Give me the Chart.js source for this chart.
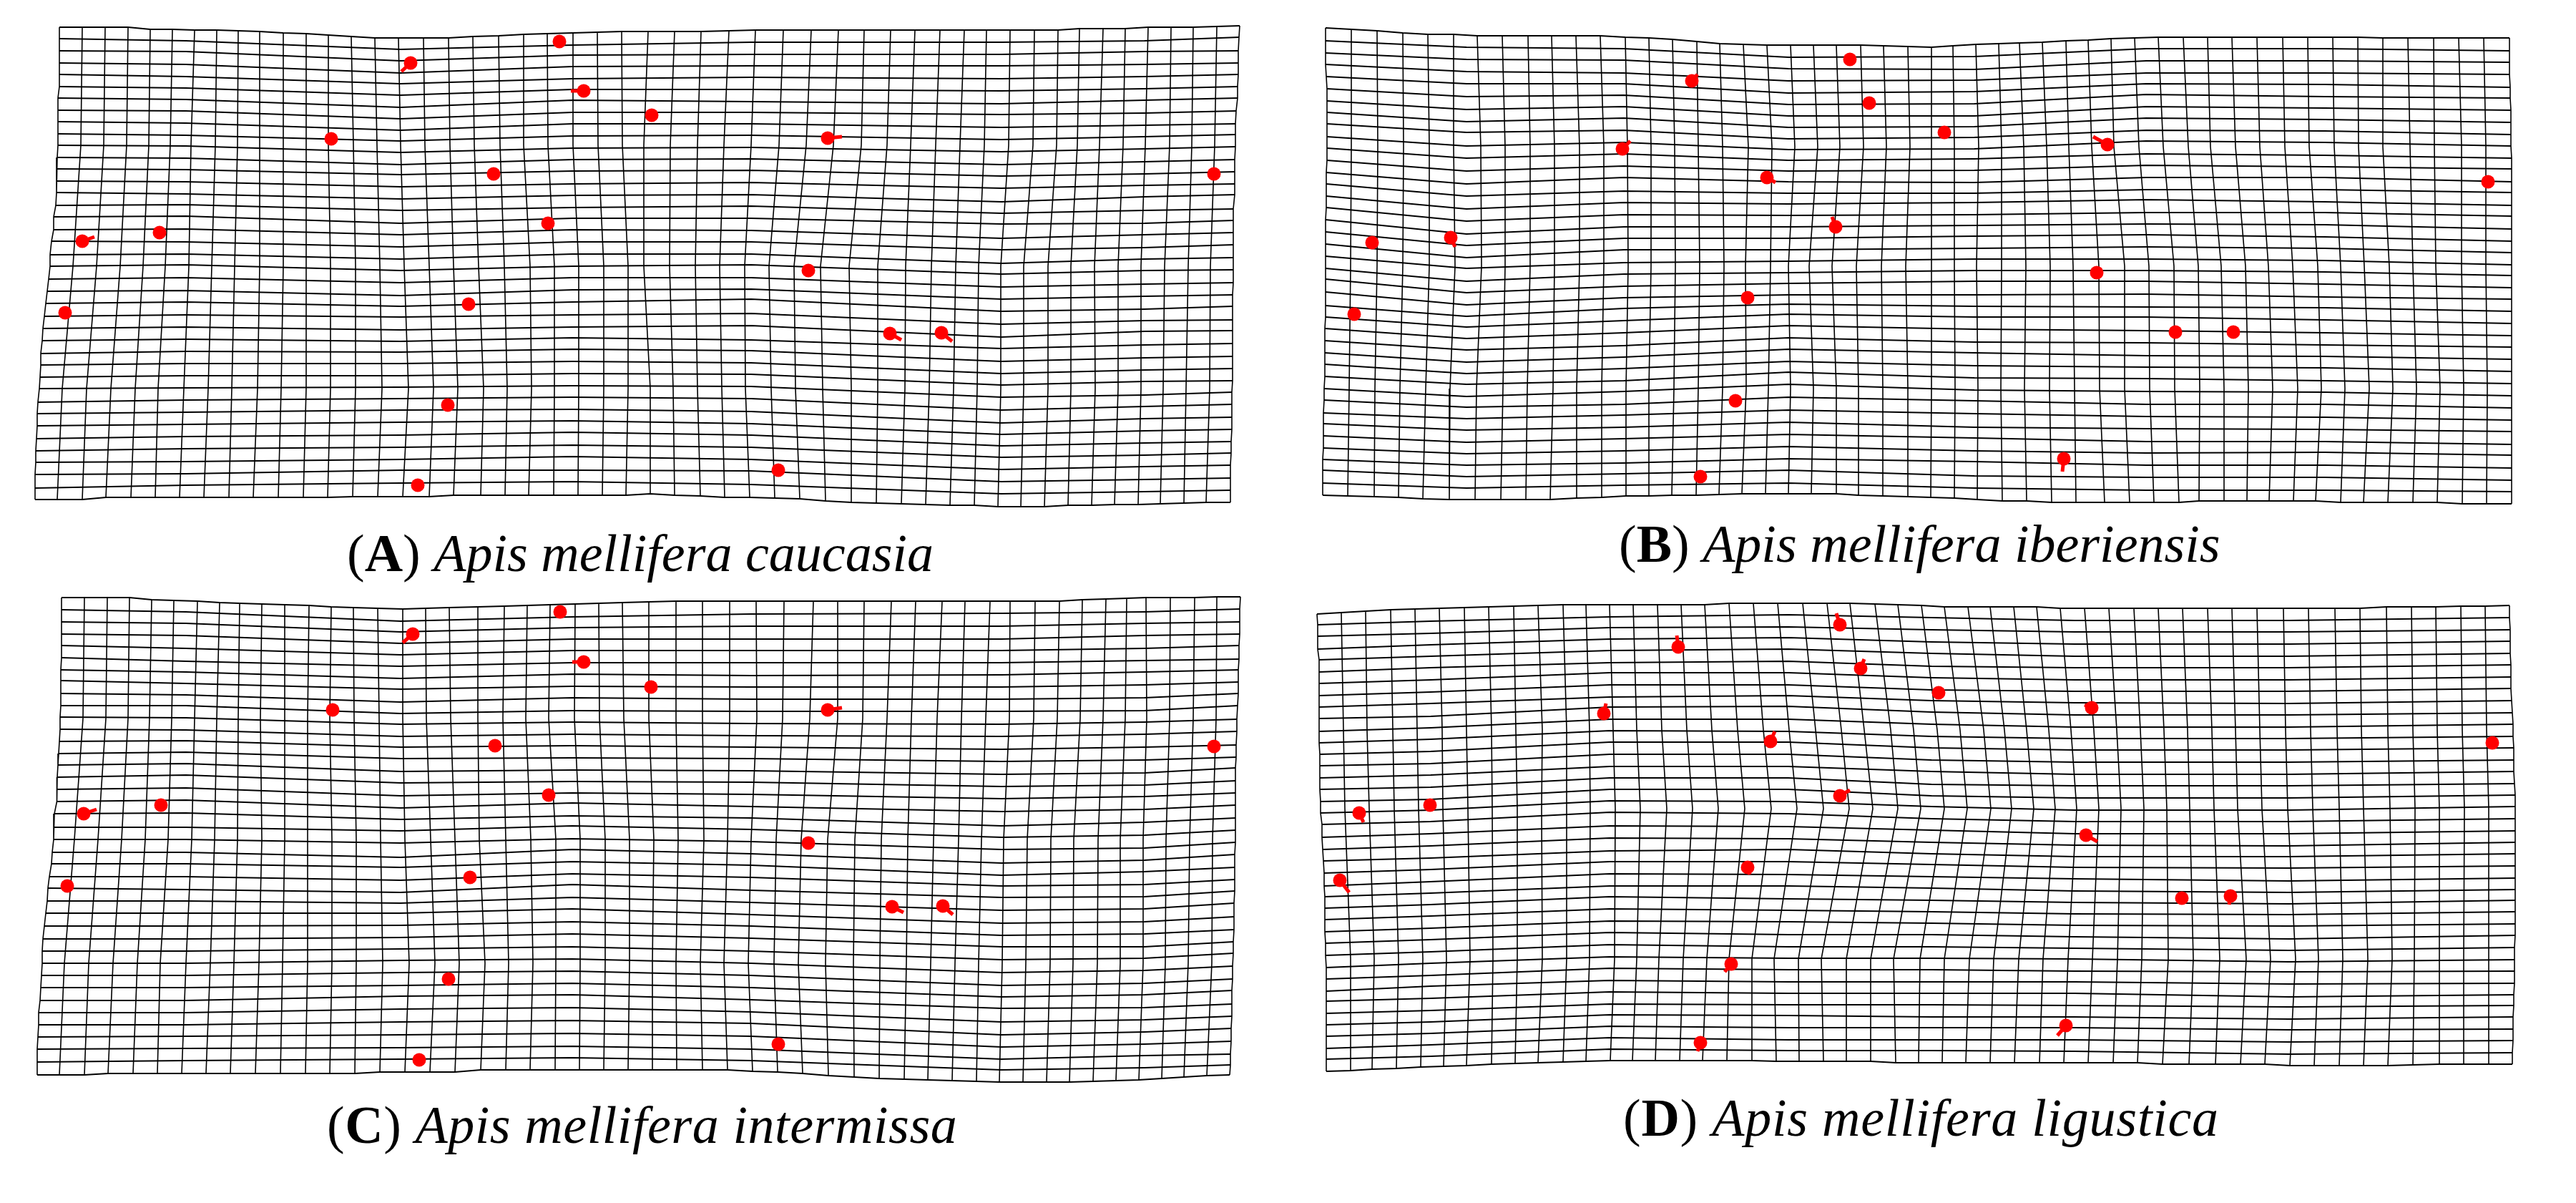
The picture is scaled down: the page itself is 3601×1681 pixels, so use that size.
<!DOCTYPE html>
<html>
<head>
<meta charset="utf-8">
<title>Apis mellifera deformation grids</title>
<script src="https://cdn.jsdelivr.net/npm/chart.js@4"></script>
<style>
  html, body { margin: 0; background: #fff; width: 3601px; height: 1681px; overflow: hidden; }
  canvas { position: absolute; }
  .cap { position: absolute; font-family: "Liberation Serif", serif; font-size: 74px; line-height: 1; white-space: nowrap; color: #000; }
</style>
</head>
<body>
<canvas id="gridA"></canvas><canvas id="gridB"></canvas><canvas id="gridC"></canvas><canvas id="gridD"></canvas>
<div class="cap" style="left:485px;top:736px">(<b>A</b>) <i>Apis mellifera caucasia</i></div>
<div class="cap" style="left:2263px;top:723px">(<b>B</b>) <i>Apis mellifera iberiensis</i></div>
<div class="cap" style="left:457px;top:1535px;letter-spacing:0.55px">(<b>C</b>) <i>Apis mellifera intermissa</i></div>
<div class="cap" style="left:2269px;top:1525px;letter-spacing:0.75px">(<b>D</b>) <i>Apis mellifera ligustica</i></div>
<script>
// --- panel A: Apis mellifera caucasia ---
const aColTop = [83,115,147,179,210,241,272,303,333,363,396,428,459,491,524,557,592,627,661,697,732,765,801,835,869,906,943,980,1019,1056,1095,1134,1172,1208,1245,1279,1314,1348,1379,1412,1446,1479,1509,1542,1573,1605,1637,1668,1701,1733]
const aCol10 = [81,113,145,177,208,238,267,301,332,363,396,428,459,494,527,560,594,629,663,699,732,766,801,836,870,900,937,975,1012,1050,1089,1127,1165,1204,1240,1273,1308,1342,1376,1410,1444,1477,1506,1537,1570,1601,1635,1666,1698,1727]
const aCol20 = [70,102,135,168,200,231,264,296,328,363,396,428,462,497,531,565,600,634,669,705,741,775,809,844,878,900,936,972,1006,1041,1075,1110,1147,1187,1227,1266,1302,1336,1368,1399,1431,1465,1497,1530,1563,1595,1628,1661,1692,1724]
const aCol30 = [56,87,121,155,189,221,257,291,324,360,393,428,462,497,534,571,606,640,676,709,743,775,809,844,878,909,941,975,1009,1042,1078,1112,1150,1190,1227,1265,1299,1333,1366,1399,1431,1465,1497,1531,1563,1595,1626,1658,1691,1722]
const aColBot = [49,80,115,148,183,217,251,285,320,354,389,424,458,493,528,563,600,634,672,706,739,774,808,842,875,909,943,979,1013,1048,1083,1118,1154,1190,1225,1260,1294,1328,1362,1395,1427,1460,1493,1526,1558,1591,1622,1655,1686,1720]
const aTopY = [38,38,38,38,41,41,42,42,43,44,46,47,49,51,53,53,53,53,51,50,48,47,46,45,44,44,44,44,43,42,42,42,42,42,42,42,42,42,42,42,42,42,40,40,40,38,38,38,37,36]
const aBotY = [698,698,698,695,695,695,695,695,695,695,695,695,695,694,694,694,694,692,692,692,692,692,692,692,692,690,692,693,695,695,696,697,700,702,703,704,705,706,706,708,708,708,706,706,705,705,704,703,702,702]
const aMidY = [203,372,543]
const aEdgeL = [83,83,83,83,83,83,81,81,81,81,81,80,79,79,79,78,75,75,72,70,70,68,66,64,62,60,59,57,57,56,55,53,52,52,51,50,50,49,49,49]
const aEdgeR = [1733,1732,1731,1731,1731,1730,1730,1728,1727,1727,1727,1726,1726,1726,1726,1724,1724,1724,1724,1724,1724,1724,1723,1723,1723,1723,1723,1723,1723,1723,1722,1722,1722,1722,1721,1721,1720,1720,1720,1720]
const aKnotX = [260,560,800,1050,1400,1600]
const aRowsL = [54,71,88,104,121,137,154,170,187,203,220,236,253,269,287,303,321,337,356,372,390,407,424,442,459,476,494,510,527,543,562,578,595,613,630,646,663,682]
const aRows1 = [57,72,90,107,123,139,155,172,189,204,221,237,254,271,286,302,320,338,355,370,388,406,422,440,457,474,491,508,525,542,559,576,593,610,627,645,662,678]
const aRows2 = [69,85,102,117,133,150,166,182,197,213,230,244,261,278,294,312,328,345,362,378,395,413,428,443,461,477,492,508,525,541,557,573,590,608,625,642,657,675]
const aRows3 = [63,77,93,110,125,140,157,173,190,207,223,239,257,273,290,305,321,338,355,372,388,405,422,440,457,472,488,505,522,539,555,572,588,604,622,638,657,673]
const aRows4 = [59,76,92,108,125,142,157,173,189,206,222,238,255,272,288,305,322,338,355,370,388,404,418,438,455,475,490,507,523,540,557,575,592,608,625,642,658,677]
const aRows5 = [59,76,92,110,127,145,160,178,195,212,230,246,263,282,298,313,333,349,368,383,401,418,435,453,471,487,505,522,538,555,573,591,607,623,639,656,673,690]
const aRows6 = [57,72,90,107,124,140,158,175,191,208,226,243,259,275,294,312,328,346,362,378,397,414,432,448,463,482,500,517,533,552,568,585,602,619,636,652,670,687]
const aRowsR = [52,71,88,104,121,137,155,173,188,205,223,240,257,272,292,308,325,342,360,377,395,412,428,447,462,480,498,515,532,548,565,583,600,617,633,650,668,685]
const aDotX = [574,782,816,463,690,766,223,115,91,655,626,584,911,1157,1697,1130,1244,1316,1088]
const aDotY = [88,58,127,194,243,312,325,337,437,425,566,678,161,193,243,378,466,465,657]
const aTailX = [561,null,798,null,null,null,null,132,null,null,null,null,null,1177,null,null,1260,1331,null]
const aTailY = [100,null,127,null,null,null,null,331,null,null,null,null,null,191,null,null,475,477,null]

// --- panel B: Apis mellifera iberiensis ---
const bColTop = [1853,1889,1925,1961,1996,2032,2065,2100,2136,2169,2203,2237,2272,2305,2338,2372,2404,2437,2470,2503,2535,2567,2601,2633,2667,2700,2730,2762,2794,2823,2855,2888,2919,2951,2984,3017,3052,3086,3120,3155,3191,3226,3261,3296,3331,3366,3402,3437,3472,3508]
const bCol10 = [1855,1889,1926,1962,1998,2032,2070,2104,2139,2173,2208,2242,2275,2308,2341,2374,2408,2444,2477,2509,2541,2572,2605,2637,2670,2700,2732,2766,2798,2829,2861,2892,2924,2955,2990,3024,3059,3090,3125,3159,3194,3228,3263,3297,3331,3369,3403,3441,3475,3510]
const bCol20 = [1853,1888,1925,1961,1998,2034,2071,2104,2139,2173,2208,2242,2276,2308,2342,2376,2410,2440,2475,2500,2529,2561,2595,2630,2664,2700,2732,2763,2798,2832,2866,2898,2934,2970,3004,3039,3073,3105,3139,3171,3205,3240,3272,3305,3340,3373,3405,3441,3475,3510]
const bCol30 = [1852,1886,1922,1957,1993,2027,2064,2101,2135,2171,2204,2239,2273,2305,2340,2374,2408,2441,2472,2503,2535,2567,2598,2632,2667,2700,2733,2765,2797,2830,2865,2900,2935,2970,3005,3040,3075,3109,3143,3177,3212,3245,3278,3312,3345,3378,3411,3444,3477,3510]
const bColBot = [1849,1884,1921,1955,1989,2026,2062,2098,2133,2167,2204,2239,2273,2305,2337,2371,2403,2435,2468,2500,2532,2567,2598,2632,2667,2699,2732,2764,2799,2833,2868,2902,2942,2977,3011,3046,3074,3109,3141,3172,3206,3237,3272,3304,3338,3373,3407,3442,3476,3511]
const bTopY = [39,41,43,46,48,48,50,50,50,50,50,50,52,53,55,58,61,62,63,63,63,63,63,64,65,66,64,62,61,60,59,57,56,54,53,52,52,52,52,52,52,52,52,52,53,53,53,53,53,53]
const bBotY = [692,693,694,695,697,698,698,698,698,698,696,695,693,693,692,692,691,690,690,690,690,690,692,693,694,695,696,698,700,700,702,702,702,702,702,702,700,700,700,700,700,700,702,702,702,702,702,704,704,704]
const bMidY = [205,372,543]
const bEdgeL = [1853,1853,1853,1853,1854,1855,1855,1855,1855,1855,1855,1855,1854,1854,1854,1854,1853,1853,1853,1853,1853,1853,1853,1853,1853,1852,1852,1852,1852,1852,1851,1851,1850,1850,1850,1850,1849,1849,1849,1849]
const bEdgeR = [3508,3508,3508,3508,3509,3509,3510,3510,3510,3510,3511,3511,3511,3511,3511,3511,3511,3511,3511,3511,3511,3511,3511,3511,3511,3511,3511,3511,3511,3511,3511,3511,3511,3511,3511,3511,3511,3511,3511,3511]
const bKnotX = [2050,2270,2500,2760,3000,3250]
const bRowsL = [57,74,90,107,124,141,157,173,191,207,224,241,257,274,290,307,324,341,358,375,390,408,427,443,459,476,493,509,526,543,559,577,592,609,626,642,657,675]
const bRows1 = [66,83,100,117,135,153,170,185,204,221,239,257,274,292,309,327,343,360,375,393,409,426,442,457,473,489,506,522,537,554,569,585,601,618,634,650,666,682]
const bRows2 = [68,84,102,117,133,149,165,182,199,215,232,248,267,283,300,317,333,349,367,383,400,416,431,448,465,483,499,515,532,547,565,580,597,613,630,647,662,678]
const bRows3 = [80,96,113,130,146,162,178,194,209,224,239,254,270,285,301,317,333,349,365,381,396,412,425,439,455,472,488,505,520,537,555,573,590,607,624,641,657,675]
const bRows4 = [79,97,112,128,145,162,177,192,208,222,238,255,270,283,300,315,330,347,362,378,393,412,428,443,460,478,493,511,528,545,560,578,597,612,630,645,665,682]
const bRows5 = [68,85,102,117,132,149,165,182,197,215,231,248,265,279,297,313,328,345,362,378,393,411,429,443,462,479,497,513,529,547,565,582,599,617,633,650,667,685]
const bRows6 = [68,85,102,118,135,151,167,183,199,217,233,248,265,282,297,314,331,347,364,380,397,415,430,447,465,482,498,514,532,548,565,583,600,617,632,650,667,685]
const bRowsR = [71,87,104,122,137,154,171,188,204,221,236,254,269,287,302,320,337,353,370,385,402,418,435,452,469,485,502,519,536,553,570,587,603,621,636,654,671,687]
const bDotX = [2365,2586,2613,2268,2470,2566,2028,1918,2443,2718,2946,3478,2931,1893,3041,3122,2426,2885,2377]
const bDotY = [113,83,144,208,248,317,332,339,416,185,202,254,381,439,464,464,560,641,666]
const bTailX = [2373,null,null,2279,2482,2561,2034,null,null,null,2926,null,null,null,null,null,null,2883,null]
const bTailY = [104,null,null,197,255,303,345,null,null,null,191,null,null,null,null,null,null,659,null]

// --- panel C: Apis mellifera intermissa ---
const cColTop = [86,118,150,181,212,243,276,307,335,366,398,432,463,494,528,563,595,628,668,705,737,769,804,837,870,907,945,982,1020,1057,1096,1137,1171,1208,1246,1280,1317,1349,1384,1412,1447,1481,1513,1546,1575,1602,1636,1670,1701,1734]
const cCol10 = [84,116,148,179,209,240,272,303,333,364,398,430,461,495,530,563,596,630,668,703,735,767,803,838,872,907,945,982,1020,1058,1094,1132,1171,1206,1240,1274,1310,1344,1378,1411,1445,1478,1510,1542,1573,1603,1635,1668,1700,1729]
const cCol20 = [72,104,137,170,203,235,268,300,332,366,398,430,464,498,532,566,602,636,670,707,742,777,811,846,880,914,948,984,1017,1050,1085,1120,1157,1195,1232,1269,1305,1340,1372,1403,1436,1469,1501,1535,1566,1598,1630,1663,1695,1727]
const cCol30 = [59,90,124,158,192,224,260,294,327,362,395,430,464,498,535,572,608,642,678,711,745,777,811,846,880,912,945,979,1012,1046,1082,1116,1154,1193,1230,1267,1301,1335,1368,1401,1434,1468,1500,1534,1566,1598,1629,1661,1694,1723]
const cColBot = [52,83,118,151,186,220,254,288,322,357,392,427,461,496,531,566,601,636,672,707,741,776,810,844,878,912,946,982,1017,1052,1087,1122,1158,1194,1229,1264,1297,1331,1365,1397,1430,1463,1495,1528,1560,1592,1624,1655,1687,1719]
const cTopY = [835,835,835,835,838,839,840,842,843,844,845,846,848,849,850,851,850,849,848,847,846,845,844,843,842,841,840,840,840,840,840,840,840,840,840,840,840,840,840,840,840,840,838,837,836,835,835,835,834,834]
const cBotY = [1502,1502,1502,1500,1500,1500,1500,1500,1500,1500,1500,1500,1500,1500,1498,1498,1498,1498,1495,1495,1495,1495,1495,1495,1495,1495,1495,1495,1495,1497,1498,1500,1503,1505,1507,1508,1509,1510,1511,1512,1512,1512,1512,1511,1510,1509,1507,1505,1503,1502]
const cMidY = [1004,1173,1346]
const cEdgeL = [86,86,86,86,86,86,85,85,85,85,84,84,83,82,81,80,80,79,76,75,75,73,72,69,67,66,64,62,60,59,59,58,57,56,54,54,53,52,52,52]
const cEdgeR = [1734,1733,1733,1733,1732,1732,1731,1731,1731,1730,1729,1729,1728,1728,1727,1727,1727,1727,1727,1727,1727,1726,1726,1726,1726,1725,1725,1725,1724,1724,1723,1723,1722,1722,1722,1721,1721,1720,1720,1719]
const cKnotX = [260,560,800,1050,1400,1600]
const cRowsL = [852,869,886,902,919,936,951,969,986,1002,1019,1036,1053,1069,1086,1103,1120,1137,1156,1173,1191,1207,1225,1241,1259,1276,1294,1312,1329,1346,1363,1380,1398,1415,1432,1449,1466,1484]
const cRows1 = [855,871,888,906,924,939,955,971,986,1003,1020,1035,1051,1067,1083,1101,1118,1136,1156,1173,1191,1207,1225,1243,1259,1276,1294,1312,1329,1346,1363,1380,1398,1415,1432,1448,1465,1482]
const cRows2 = [868,883,899,915,931,948,963,981,997,1012,1029,1044,1060,1078,1094,1112,1129,1145,1161,1178,1198,1212,1230,1247,1262,1276,1293,1310,1326,1342,1359,1377,1392,1410,1428,1446,1464,1480]
const cRows3 = [862,877,893,909,926,942,959,975,993,1009,1026,1042,1059,1076,1092,1108,1122,1140,1154,1172,1187,1204,1221,1236,1254,1270,1288,1305,1323,1340,1357,1374,1390,1408,1426,1444,1462,1478]
const cRows4 = [858,875,893,909,926,944,960,977,994,1011,1028,1044,1060,1077,1093,1110,1127,1143,1159,1176,1193,1209,1226,1244,1261,1278,1294,1311,1329,1346,1363,1380,1397,1414,1430,1448,1466,1482]
const cRows5 = [857,875,893,909,926,943,960,977,994,1012,1029,1047,1064,1082,1099,1116,1134,1154,1170,1187,1206,1223,1238,1254,1272,1290,1307,1323,1341,1359,1377,1393,1409,1428,1446,1463,1480,1495]
const cRows6 = [855,871,888,906,923,939,957,975,993,1009,1026,1044,1062,1080,1097,1113,1131,1149,1167,1185,1202,1218,1236,1253,1270,1288,1305,1323,1339,1356,1374,1390,1408,1425,1442,1459,1475,1492]
const cRowsR = [851,869,886,902,921,936,953,969,986,1005,1022,1041,1058,1073,1091,1108,1125,1143,1160,1177,1194,1212,1229,1245,1262,1281,1299,1316,1332,1350,1368,1384,1403,1420,1437,1455,1473,1488]
const cDotX = [577,783,816,910,465,1157,1697,692,767,225,117,1130,657,94,1247,1318,627,1088,586]
const cDotY = [886,855,925,960,992,992,1043,1042,1111,1125,1137,1178,1226,1238,1267,1266,1368,1459,1481]
const cTailX = [563,null,800,null,null,1177,null,null,null,null,135,null,null,null,1263,1332,null,null,null]
const cTailY = [898,null,925,null,null,989,null,null,null,null,1131,null,null,null,1275,1278,null,null,null]

// --- panel D: Apis mellifera ligustica ---
const dColTop = [1841,1875,1909,1944,1978,2012,2047,2081,2116,2150,2185,2217,2250,2283,2317,2350,2383,2417,2451,2485,2520,2554,2586,2621,2653,2686,2718,2751,2782,2815,2847,2880,2914,2948,2983,3017,3051,3086,3120,3155,3192,3227,3264,3299,3336,3371,3405,3440,3474,3508]
const dCol10 = [1844,1878,1911,1947,1981,2016,2050,2085,2119,2156,2190,2222,2255,2288,2323,2358,2393,2429,2465,2501,2538,2574,2606,2643,2675,2708,2740,2773,2802,2833,2864,2895,2927,2959,2992,3025,3058,3092,3125,3159,3195,3230,3267,3301,3338,3373,3407,3442,3476,3513]
const dCol20 = [1846,1880,1914,1949,1983,2017,2052,2086,2121,2155,2190,2223,2258,2293,2330,2366,2402,2439,2476,2512,2549,2585,2618,2653,2685,2718,2750,2783,2812,2843,2873,2903,2934,2965,2997,3029,3061,3095,3128,3162,3198,3233,3270,3304,3341,3376,3410,3445,3479,3516]
const dCol30 = [1854,1888,1921,1955,1989,2022,2055,2087,2121,2156,2190,2222,2257,2288,2319,2353,2386,2417,2449,2480,2514,2546,2581,2615,2647,2684,2718,2753,2787,2822,2856,2891,2925,2960,2994,3031,3066,3103,3140,3174,3209,3241,3275,3310,3344,3375,3410,3444,3479,3514]
const dColBot = [1854,1888,1918,1952,1986,2018,2050,2085,2118,2150,2185,2217,2251,2282,2314,2348,2380,2414,2449,2483,2515,2549,2581,2615,2650,2682,2715,2748,2782,2816,2851,2885,2919,2954,2988,3023,3060,3097,3132,3166,3201,3235,3270,3304,3338,3373,3410,3444,3479,3512]
const dTopY = [858,856,854,852,851,850,849,848,847,846,845,845,845,845,845,845,845,843,843,843,843,843,843,844,845,846,848,848,848,848,848,850,850,850,850,850,850,850,850,850,850,850,850,850,848,848,848,847,847,846]
const dBotY = [1497,1496,1494,1493,1491,1490,1489,1487,1486,1485,1484,1483,1482,1482,1482,1482,1482,1482,1482,1483,1483,1483,1483,1483,1485,1485,1485,1485,1485,1485,1485,1485,1485,1485,1485,1487,1487,1487,1487,1487,1489,1489,1489,1489,1489,1488,1487,1487,1487,1487]
const dMidY = [1020,1130,1340]
const dEdgeL = [1841,1842,1842,1842,1844,1844,1844,1844,1844,1844,1844,1844,1845,1845,1845,1845,1846,1846,1848,1848,1849,1850,1851,1851,1852,1852,1852,1852,1853,1853,1854,1854,1854,1854,1854,1854,1854,1854,1854,1854]
const dEdgeR = [3508,3508,3509,3509,3509,3510,3510,3510,3511,3512,3513,3513,3514,3514,3514,3515,3516,3516,3516,3516,3516,3516,3516,3516,3516,3516,3516,3516,3516,3515,3515,3515,3515,3514,3514,3513,3513,3513,3512,3512]
const dKnotX = [2000,2250,2500,2700,2900,3200]
const dRowsL = [873,889,907,922,939,955,972,988,1004,1022,1038,1054,1070,1087,1103,1120,1136,1152,1170,1187,1203,1220,1238,1253,1269,1285,1302,1318,1335,1352,1368,1385,1399,1416,1432,1448,1465,1480]
const dRows1 = [868,885,901,917,933,950,967,983,1001,1017,1033,1050,1067,1083,1100,1117,1132,1148,1165,1182,1199,1215,1232,1248,1264,1280,1297,1313,1330,1346,1363,1378,1395,1412,1428,1444,1460,1476]
const dRows2 = [862,877,893,909,926,940,957,974,988,1005,1021,1037,1054,1071,1087,1103,1119,1135,1154,1171,1189,1204,1221,1238,1253,1270,1287,1303,1320,1337,1353,1370,1386,1403,1418,1434,1450,1466]
const dRows3 = [859,876,891,907,924,940,957,972,987,1005,1022,1037,1054,1071,1087,1103,1120,1137,1155,1172,1187,1204,1222,1238,1256,1272,1288,1306,1323,1339,1355,1372,1388,1404,1419,1436,1453,1468]
const dRows4 = [863,880,897,913,931,947,964,979,995,1012,1029,1045,1062,1078,1096,1112,1127,1144,1160,1177,1193,1208,1225,1241,1258,1274,1290,1306,1323,1339,1355,1372,1388,1404,1421,1436,1453,1468]
const dRows5 = [867,883,900,917,933,950,966,982,999,1016,1032,1048,1065,1082,1098,1115,1132,1148,1165,1181,1197,1212,1228,1245,1261,1277,1293,1309,1325,1340,1357,1372,1388,1405,1421,1436,1453,1469]
const dRows6 = [867,883,900,917,933,950,966,983,999,1016,1032,1048,1065,1082,1098,1115,1132,1148,1165,1182,1197,1213,1231,1247,1263,1278,1294,1312,1328,1344,1358,1375,1393,1407,1424,1439,1456,1473]
const dRowsR = [863,880,896,913,929,946,962,979,996,1012,1029,1045,1062,1078,1095,1111,1127,1144,1161,1177,1193,1210,1227,1243,1258,1274,1291,1307,1324,1341,1357,1374,1390,1405,1421,1438,1454,1471]
const dDotX = [2572,2346,2601,2710,2924,2242,3484,2475,2572,1999,1900,2916,2443,1873,3050,3118,2420,2888,2377]
const dDotY = [873,904,934,968,989,997,1038,1036,1112,1125,1136,1167,1212,1230,1255,1252,1347,1433,1457]
const dTailX = [2567,2344,2606,null,2914,2245,null,2481,2586,null,1906,2932,2446,1886,null,3116,2411,2876,2373]
const dTailY = [857,888,921,null,985,983,null,1022,1104,null,1149,1176,1222,1247,null,1264,1358,1447,1469]

const lineColor = '#000'
const dotColor = '#ff0000'

// one scatter chart per panel, the scales are set so that one unit is one page pixel
function drawPanel(id, box, g) {
  const datasets = []

  // red landmarks go first so they end up on top
  datasets.push({
    data: g.dotX.map((x, i) => ({ x: x, y: g.dotY[i] })),
    showLine: false, pointRadius: 9.5, pointBackgroundColor: dotColor, pointBorderWidth: 0
  })
  g.tailX.forEach((tx, i) => {
    if (tx === null) return
    datasets.push({
      data: [{ x: g.dotX[i], y: g.dotY[i] }, { x: tx, y: g.tailY[i] }],
      showLine: true, borderColor: dotColor, borderWidth: 5, pointRadius: 0
    })
  })

  const rowLine = pts => ({ data: pts, showLine: true, borderColor: lineColor, borderWidth: 2.1, pointRadius: 0, tension: 0 })
  const colLine = pts => ({ data: pts, showLine: true, borderColor: lineColor, borderWidth: 1.6, pointRadius: 0, tension: 0 })

  // top and bottom border follow the column ends
  datasets.push(rowLine(g.colTop.map((x, i) => ({ x: x, y: g.topY[i] }))))
  datasets.push(rowLine(g.colBot.map((x, i) => ({ x: x, y: g.botY[i] }))))

  // inner rows
  g.rowsL.forEach((yl, j) => {
    const pts = [{ x: g.edgeL[j + 1], y: yl }]
    g.knotX.forEach((kx, k) => pts.push({ x: kx, y: g.rows[k][j] }))
    pts.push({ x: g.edgeR[j + 1], y: g.rowsR[j] })
    datasets.push(rowLine(pts))
  })

  // inner columns
  g.colTop.forEach((x, i) => {
    if (i === 0 || i === g.colTop.length - 1) return
    datasets.push(colLine([
      { x: x, y: g.topY[i] },
      { x: g.col10[i], y: g.midY[0] },
      { x: g.col20[i], y: g.midY[1] },
      { x: g.col30[i], y: g.midY[2] },
      { x: g.colBot[i], y: g.botY[i] }
    ]))
  })

  // left and right border use every row
  const edge = (xs, inner, last) => {
    const pts = [{ x: xs[0], y: g.topY[last] }]
    inner.forEach((y, j) => pts.push({ x: xs[j + 1], y: y }))
    pts.push({ x: xs[39], y: g.botY[last] })
    return colLine(pts)
  }
  datasets.push(edge(g.edgeL, g.rowsL, 0))
  datasets.push(edge(g.edgeR, g.rowsR, 49))

  const canvas = document.getElementById(id)
  canvas.style.left = box.left + 'px'
  canvas.style.top = box.top + 'px'
  canvas.width = box.right - box.left
  canvas.height = box.bottom - box.top

  new Chart(canvas.getContext('2d'), {
    type: 'scatter',
    data: { datasets: datasets },
    options: {
      responsive: false,
      animation: false,
      devicePixelRatio: 1,
      layout: { padding: 0, autoPadding: false },
      plugins: { legend: { display: false }, tooltip: { enabled: false }, title: { display: false } },
      scales: {
        x: { type: 'linear', display: false, min: box.left, max: box.right },
        y: { type: 'linear', display: false, min: box.top, max: box.bottom, reverse: true }
      }
    }
  })
}

drawPanel('gridA', { left: 20, right: 1780, top: 15, bottom: 725 }, {
  colTop: aColTop, col10: aCol10, col20: aCol20, col30: aCol30, colBot: aColBot, topY: aTopY, botY: aBotY, midY: aMidY,
  edgeL: aEdgeL, edgeR: aEdgeR, knotX: aKnotX, rowsL: aRowsL, rowsR: aRowsR, rows: [aRows1, aRows2, aRows3, aRows4, aRows5, aRows6],
  dotX: aDotX, dotY: aDotY, tailX: aTailX, tailY: aTailY
})
drawPanel('gridB', { left: 1800, right: 3560, top: 15, bottom: 725 }, {
  colTop: bColTop, col10: bCol10, col20: bCol20, col30: bCol30, colBot: bColBot, topY: bTopY, botY: bBotY, midY: bMidY,
  edgeL: bEdgeL, edgeR: bEdgeR, knotX: bKnotX, rowsL: bRowsL, rowsR: bRowsR, rows: [bRows1, bRows2, bRows3, bRows4, bRows5, bRows6],
  dotX: bDotX, dotY: bDotY, tailX: bTailX, tailY: bTailY
})
drawPanel('gridC', { left: 20, right: 1780, top: 815, bottom: 1530 }, {
  colTop: cColTop, col10: cCol10, col20: cCol20, col30: cCol30, colBot: cColBot, topY: cTopY, botY: cBotY, midY: cMidY,
  edgeL: cEdgeL, edgeR: cEdgeR, knotX: cKnotX, rowsL: cRowsL, rowsR: cRowsR, rows: [cRows1, cRows2, cRows3, cRows4, cRows5, cRows6],
  dotX: cDotX, dotY: cDotY, tailX: cTailX, tailY: cTailY
})
drawPanel('gridD', { left: 1800, right: 3560, top: 815, bottom: 1530 }, {
  colTop: dColTop, col10: dCol10, col20: dCol20, col30: dCol30, colBot: dColBot, topY: dTopY, botY: dBotY, midY: dMidY,
  edgeL: dEdgeL, edgeR: dEdgeR, knotX: dKnotX, rowsL: dRowsL, rowsR: dRowsR, rows: [dRows1, dRows2, dRows3, dRows4, dRows5, dRows6],
  dotX: dDotX, dotY: dDotY, tailX: dTailX, tailY: dTailY
})
</script>
</body>
</html>
